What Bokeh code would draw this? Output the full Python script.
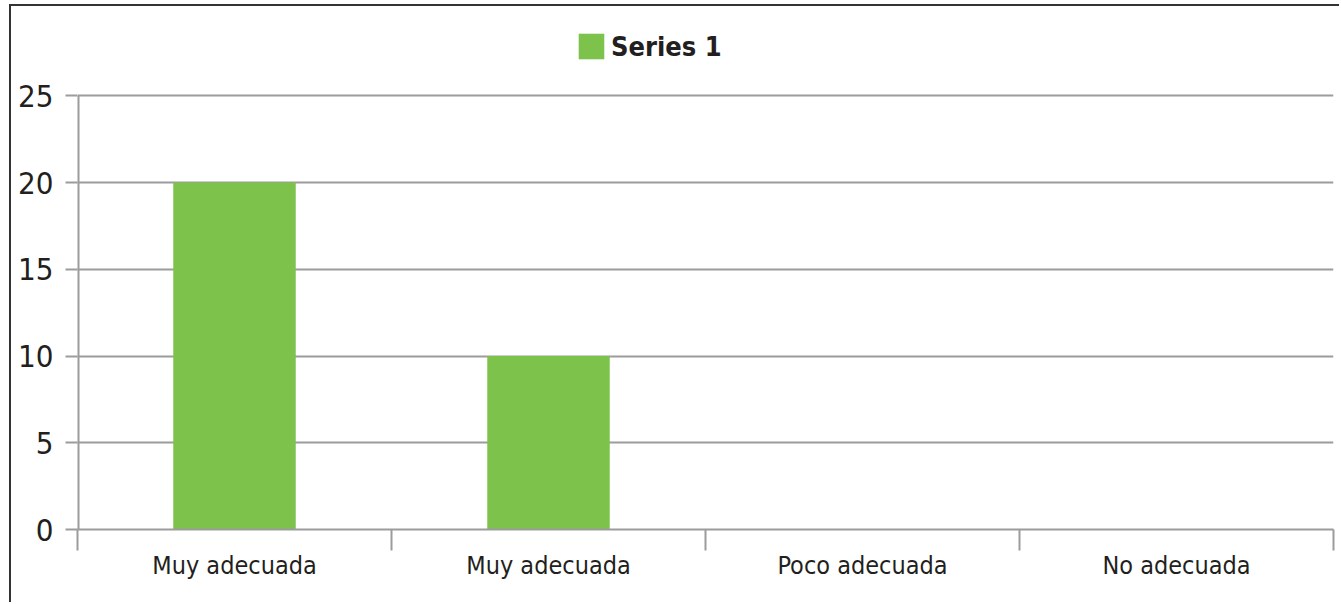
from bokeh.plotting import figure
from bokeh.models import ColumnDataSource, FixedTicker, Legend, LegendItem, Range1d
from bokeh.embed import file_html
from bokeh.resources import INLINE

categories = ["Muy adecuada", "Muy adecuada", "Poco adecuada", "No adecuada"]
series_name = "Series 1"
values = [20, 10, 0, 0]
y_ticks = [0, 5, 10, 15, 20, 25]

FONT = "DejaVu Sans Condensed"
GREEN = "#7DC24B"
GRID = "#9C9C9C"
TEXT = "#231F20"

xs = list(range(len(categories)))
src = ColumnDataSource(dict(x=xs, top=values))

# frame spans from just under the top border down to the zero line;
# the headroom above 25 holds the legend
p = figure(width=1330, height=598, output_backend="svg", toolbar_location=None,
           x_range=Range1d(-0.5, len(categories) - 0.5), y_range=Range1d(0, 29.0),
           min_border_left=66, min_border_right=8, min_border_top=20, min_border_bottom=75)
p.styles = {"margin-left": "9px", "margin-top": "4px",
            "border-left": "2px solid #333", "border-top": "2px solid #333"}
p.outline_line_color = None

r = p.vbar(x="x", top="top", width=0.39, source=src, fill_color=GREEN, line_color=None)

# y axis line only from 0 to 25 (half of it is clipped at the frame edge)
p.segment(x0=[p.x_range.start], y0=[y_ticks[0]], x1=[p.x_range.start], y1=[y_ticks[-1]],
          line_color=GRID, line_width=4)

p.xgrid.grid_line_color = None
p.ygrid.grid_line_color = GRID
p.ygrid.grid_line_width = 2
p.ygrid.ticker = FixedTicker(ticks=y_ticks)

yax = p.yaxis[0]
yax.ticker = FixedTicker(ticks=y_ticks)
yax.axis_line_color = None
yax.major_tick_line_color = GRID
yax.major_tick_line_width = 2
yax.major_tick_in = 0
yax.major_tick_out = 12
yax.minor_tick_line_color = None
yax.major_label_text_font = FONT
yax.major_label_text_font_size = "31px"
yax.major_label_text_color = TEXT
yax.major_label_standoff = 12

xax = p.xaxis[0]
xax.ticker = FixedTicker(ticks=xs, minor_ticks=[i - 0.5 for i in range(len(categories) + 1)])
xax.major_label_overrides = {i: c for i, c in enumerate(categories)}
xax.axis_line_color = GRID
xax.axis_line_width = 2
xax.major_tick_line_color = None
xax.major_tick_in = 0
xax.major_tick_out = 21
xax.minor_tick_line_color = GRID
xax.minor_tick_line_width = 2
xax.minor_tick_in = 0
xax.minor_tick_out = 21
xax.major_label_text_font = FONT
xax.major_label_text_font_size = "25px"
xax.major_label_text_color = TEXT
xax.major_label_standoff = 0

legend = Legend(items=[LegendItem(label=series_name, renderers=[r])],
                orientation="horizontal", location=(498, 467),
                label_text_font=FONT, label_text_font_style="bold",
                label_text_font_size="27px", label_text_color=TEXT,
                glyph_width=32, glyph_height=32, label_standoff=4, label_height=32,
                padding=0, margin=0, spacing=0, border_line_color=None,
                background_fill_alpha=0)
p.add_layout(legend)

open("out.html", "w").write(file_html(p, INLINE))
